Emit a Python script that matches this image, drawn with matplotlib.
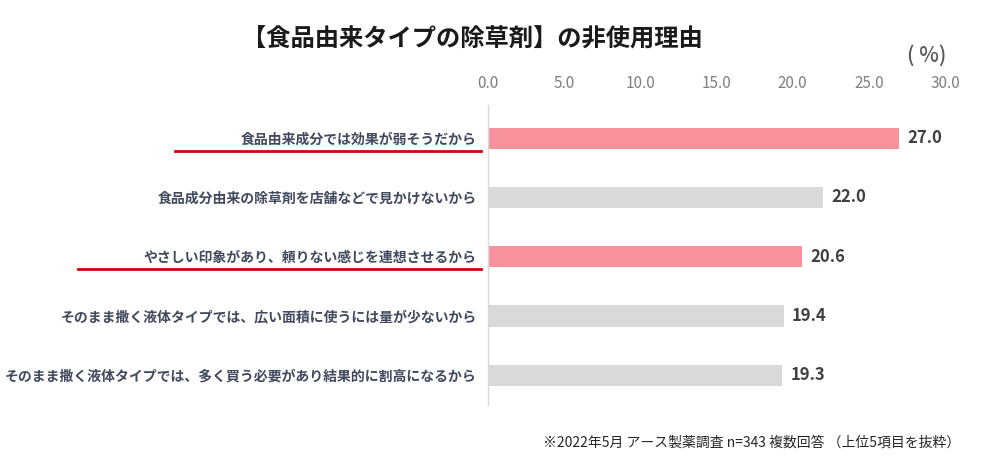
import matplotlib
matplotlib.use("Agg")
import matplotlib.pyplot as plt
from matplotlib.lines import Line2D

plt.rcParams['font.family'] = ['Noto Sans CJK JP', 'DejaVu Sans']

reasons = [
    "食品由来成分では効果が弱そうだから",
    "食品成分由来の除草剤を店舗などで見かけないから",
    "やさしい印象があり、頼りない感じを連想させるから",
    "そのまま撒く液体タイプでは、広い面積に使うには量が少ないから",
    "そのまま撒く液体タイプでは、多く買う必要があり結果的に割高になるから",
]
percent = [27.0, 22.0, 20.6, 19.4, 19.3]
highlight = [True, False, True, False, False]
ticks = [0, 5, 10, 15, 20, 25, 30]

pink = "#f7919b"
gray = "#d9d9d9"
label_color = "#404a5c"

fig = plt.figure(figsize=(10, 4.74), dpi=100)
ax = fig.add_axes([0.488, 1 - 405 / 474, 0.457, 300 / 474])

ypos = list(range(len(reasons)))
colors = [pink if h else gray for h in highlight]
ax.barh(ypos, percent, height=0.36, color=colors)

ax.set_xlim(0, 30)
ax.set_ylim(4.5, -0.56)
ax.xaxis.tick_top()
ax.set_xticks(ticks)
ax.set_xticklabels([f"{t:.1f}" for t in ticks], fontsize=11, color="#7f7f7f")
ax.tick_params(axis="x", length=0, pad=9)
ax.set_yticks(ypos)
ax.set_yticklabels(reasons, fontsize=10, fontweight="bold", color=label_color)
ax.tick_params(axis="y", length=0, pad=8)
for side in ["top", "right", "bottom"]:
    ax.spines[side].set_visible(False)
ax.spines["left"].set_color("#d9d9d9")
ax.spines["left"].set_linewidth(1)

for y, v in zip(ypos, percent):
    ax.text(v + 0.55, y, f"{v:.1f}", va="center", ha="left",
            fontsize=12, fontweight="bold", color="#404040")

fig.text(0.472, 1 - 40 / 474, "【食品由来タイプの除草剤】の非使用理由",
         ha="center", va="center", fontsize=17.5, fontweight="bold", color="#1a1a1a")
fig.text(0.946, 1 - 56 / 474, "( %)", ha="right", va="center",
         fontsize=15, fontweight="medium", color="#595959")
fig.text(0.96, 1 - 443 / 474,
         "※2022年5月 アース製薬調査 n=343 複数回答 （上位5項目を抜粋）",
         ha="right", va="center", fontsize=10, color="#262626")

# red underline under the highlighted reasons
fig.canvas.draw()
renderer = fig.canvas.get_renderer()
W, H = fig.bbox.width, fig.bbox.height
for lab, h in zip(ax.get_yticklabels(), highlight):
    if not h:
        continue
    bb = lab.get_window_extent(renderer)
    x0 = (bb.x0 - 66) / W
    x1 = (bb.x1 + 4) / W
    yy = (bb.y0 - 4) / H
    fig.add_artist(Line2D([x0, x1], [yy, yy], transform=fig.transFigure,
                          color="#d7000f", linewidth=2))

fig.savefig("out.png", dpi=100)
